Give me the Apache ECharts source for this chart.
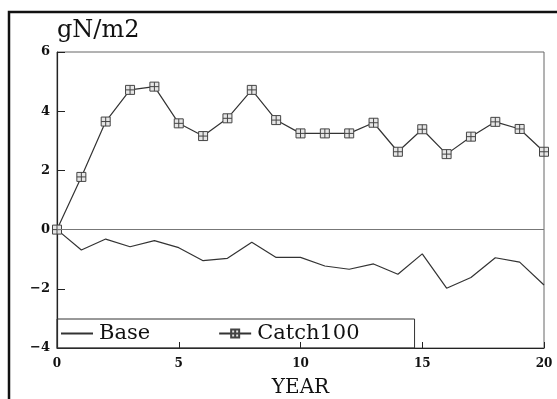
<!DOCTYPE html>
<html>
<head>
<meta charset="utf-8">
<script src="https://cdn.jsdelivr.net/npm/echarts@6/dist/echarts.min.js"></script>
<style>
  html, body { margin: 0; padding: 0; background: #fff; }
  #chart { width: 557px; height: 399px; }
</style>
</head>
<body>
<div id="chart"></div>
<script>
// Nitrogen balance by simulation year (gN/m2)
const years = [0,1,2,3,4,5,6,7,8,9,10,11,12,13,14,15,16,17,18,19,20];
const baseValues = [0,-0.69,-0.32,-0.58,-0.37,-0.61,-1.05,-0.97,-0.43,-0.94,-0.94,-1.23,-1.34,-1.16,-1.51,-0.82,-1.98,-1.62,-0.95,-1.1,-1.87];
const catchValues = [0,1.78,3.65,4.72,4.83,3.59,3.16,3.76,4.72,3.7,3.25,3.25,3.25,3.61,2.63,3.39,2.55,3.14,3.64,3.4,2.63];
const yTicks = { min: -4, max: 6, step: 2 };
const xTicks = { min: 0, max: 20, step: 5 };

const SERIF = '"DejaVu Serif", "Liberation Serif", serif';
const boxCross = 'path://M0,0H10V10H0Z M5,0V10 M0,5H10';

const pairs = (ys) => years.map((x, i) => [x, ys[i]]);
const withMinus = (v) => String(v).replace('-', '\u2212');

const chart = echarts.init(document.getElementById('chart'), null, { renderer: 'canvas' });
chart.setOption({
  animation: false,
  backgroundColor: '#fff',
  grid: {
    left: 57, right: 13, top: 52, bottom: 51,
    outerBoundsMode: 'none', containLabel: false,
    show: true, borderColor: '#666', borderWidth: 1, backgroundColor: 'transparent'
  },
  graphic: [
    // outer frame (top and left edges)
    { type: 'polyline', shape: { points: [[9, 399], [9, 12], [557, 12]] },
      style: { stroke: '#111', lineWidth: 2.5, fill: null }, z: 10 },
    { type: 'text', left: 57, top: 19,
      style: { text: 'gN/m2', font: '24px ' + SERIF, fill: '#111' } }
  ],
  legend: {
    left: 57, top: 319,
    padding: [4, 55, 4, 3],
    itemGap: 68,
    itemWidth: 32, itemHeight: 10,
    borderColor: '#333', borderWidth: 1, borderRadius: 0,
    backgroundColor: 'transparent',
    textStyle: { fontFamily: SERIF, fontSize: 21, color: '#111', padding: [0, 0, 0, 1] },
    data: [
      { name: 'Base', itemStyle: { opacity: 0 } },
      { name: 'Catch100' }
    ]
  },
  xAxis: {
    type: 'value', min: xTicks.min, max: xTicks.max, interval: xTicks.step,
    name: 'YEAR', nameLocation: 'middle', nameGap: 30,
    nameTextStyle: { fontFamily: SERIF, fontSize: 20, color: '#111' },
    axisLine: { onZero: false, lineStyle: { color: '#222', width: 1.2 } },
    axisTick: { inside: true, length: 6, lineStyle: { color: '#222' } },
    axisLabel: { fontFamily: SERIF, fontSize: 12, fontWeight: 'bold', color: '#111', margin: 10 },
    splitLine: { show: false }
  },
  yAxis: {
    type: 'value', min: yTicks.min, max: yTicks.max, interval: yTicks.step,
    axisLine: { show: true, lineStyle: { color: '#222', width: 1.2 } },
    axisTick: { show: true, inside: true, length: 8, lineStyle: { color: '#222' } },
    axisLabel: { fontFamily: SERIF, fontSize: 13, fontWeight: 'bold', color: '#111', margin: 7,
                 formatter: withMinus },
    splitLine: { show: false }
  },
  series: [
    {
      name: 'Base', type: 'line', data: pairs(baseValues),
      showSymbol: false, symbol: 'none',
      lineStyle: { color: '#333', width: 1.2 },
      itemStyle: { color: '#333' },
      markLine: {
        silent: true, symbol: 'none', label: { show: false },
        lineStyle: { color: '#777', width: 1, type: 'solid' },
        data: [{ yAxis: 0 }]
      }
    },
    {
      name: 'Catch100', type: 'line', data: pairs(catchValues),
      symbol: boxCross, symbolSize: 9, showSymbol: true,
      lineStyle: { color: '#333', width: 1.2 },
      itemStyle: { color: '#e6e6e6', borderColor: '#444', borderWidth: 1 }
    }
  ]
});
</script>
</body>
</html>
